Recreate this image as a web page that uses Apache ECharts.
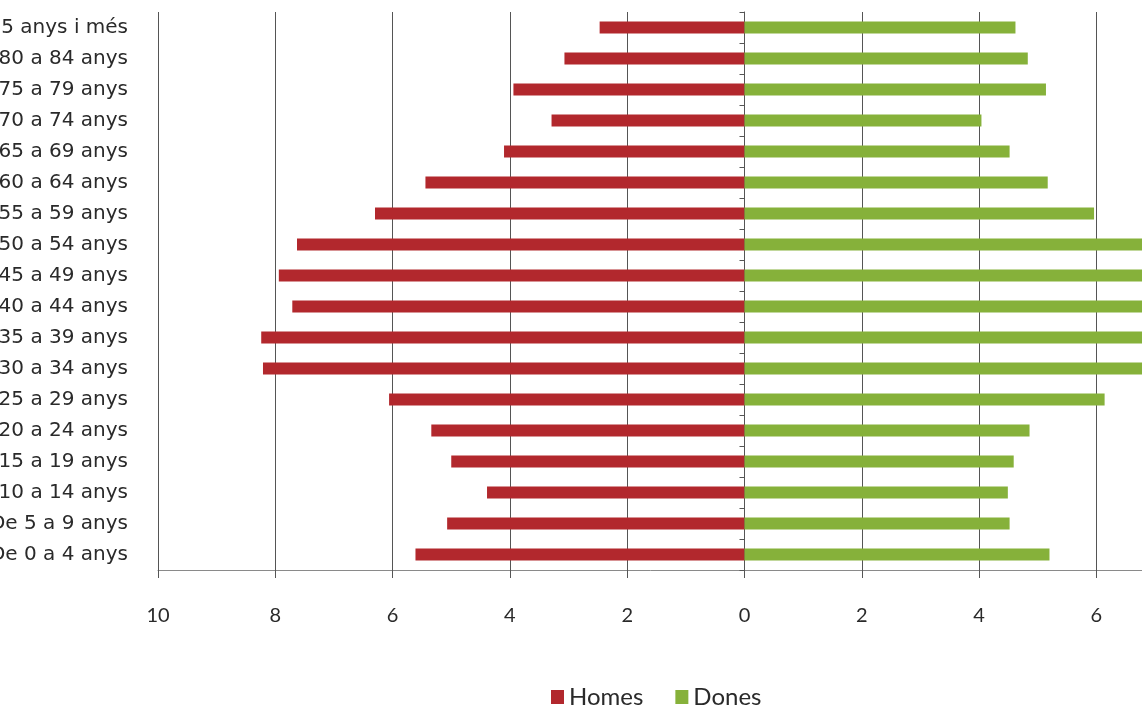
<!DOCTYPE html>
<html>
<head>
<meta charset="utf-8">
<title>Piràmide de població</title>
<script src="https://cdn.jsdelivr.net/npm/echarts@6/dist/echarts.min.js"></script>
<style>
  html, body { margin: 0; padding: 0; background: #ffffff; }
  #chart { width: 1142px; height: 710px; }
</style>
</head>
<body>
<div id="chart"></div>
<script>
// Age groups, from the youngest (bottom) to the oldest (top)
const ageGroups = [
  'De 0 a 4 anys', 'De 5 a 9 anys', 'De 10 a 14 anys', 'De 15 a 19 anys',
  'De 20 a 24 anys', 'De 25 a 29 anys', 'De 30 a 34 anys', 'De 35 a 39 anys',
  'De 40 a 44 anys', 'De 45 a 49 anys', 'De 50 a 54 anys', 'De 55 a 59 anys',
  'De 60 a 64 anys', 'De 65 a 69 anys', 'De 70 a 74 anys', 'De 75 a 79 anys',
  'De 80 a 84 anys', 'De 85 anys i més'
];

// Share of the population (%) per age group
const homes = [5.61, 5.07, 4.39, 5.00, 5.34, 6.06, 8.21, 8.24, 7.71, 7.94, 7.63, 6.30, 5.44, 4.10, 3.29, 3.94, 3.07, 2.47];
const dones = [5.20, 4.52, 4.49, 4.59, 4.86, 6.14, 7.60, 7.70, 7.30, 7.40, 7.20, 5.96, 5.17, 4.52, 4.04, 5.14, 4.83, 4.62];

// Value axis: men drawn to the left (negative), women to the right
const axisMin = -10;
const axisMax = 10;
const axisStep = 2;

const chart = echarts.init(document.getElementById('chart'), null, { renderer: 'canvas' });

const font = 'Lato, "Open Sans", sans-serif';
const labelFont = '"DejaVu Sans", Lato, sans-serif';

chart.setOption({
  backgroundColor: '#ffffff',
  animation: false,
  grid: {
    left: 158,
    top: 12,
    width: 1173,
    height: 558,
    containLabel: false,
    outerBoundsMode: 'none'
  },
  legend: {
    data: ['Homes', 'Dones'],
    left: 546,
    top: 680,
    icon: 'rect',
    itemWidth: 13,
    itemHeight: 14,
    itemGap: 32,
    textStyle: { fontFamily: font, fontSize: 24, color: '#2a2a2a' }
  },
  xAxis: {
    type: 'value',
    min: axisMin,
    max: axisMax,
    interval: axisStep,
    axisLine: { show: true, onZero: false, lineStyle: { color: '#8a8a8a', width: 1 } },
    axisTick: { show: true, length: 8, lineStyle: { color: '#555555' } },
    axisLabel: {
      margin: 36,
      fontFamily: font,
      fontSize: 20,
      color: '#2a2a2a',
      formatter: v => String(Math.abs(v))
    },
    splitLine: { show: true, lineStyle: { color: '#555555', width: 1 } }
  },
  yAxis: [
    {
      type: 'category',
      data: ageGroups,
      position: 'left',
      axisLine: { show: false, onZero: false },
      axisTick: { show: false },
      axisLabel: {
        margin: 30,
        fontFamily: labelFont,
        fontSize: 20,
        color: '#2a2a2a'
      }
    },
    {
      // the vertical axis line through 0, with its category ticks
      type: 'category',
      data: ageGroups,
      position: 'left',
      axisLine: { show: true, onZero: true, onZeroAxisIndex: 0, lineStyle: { color: '#555555', width: 1 } },
      axisTick: { show: true, length: 5, lineStyle: { color: '#555555' } },
      axisLabel: { show: false }
    }
  ],
  series: [
    {
      name: 'Homes',
      type: 'bar',
      yAxisIndex: 0,
      data: homes.map(v => -v),
      barWidth: 12,
      barGap: '-100%',
      itemStyle: { color: '#b2282d' }
    },
    {
      name: 'Dones',
      type: 'bar',
      yAxisIndex: 0,
      data: dones,
      barWidth: 12,
      barGap: '-100%',
      itemStyle: { color: '#86b13a' }
    }
  ]
});
</script>
</body>
</html>
